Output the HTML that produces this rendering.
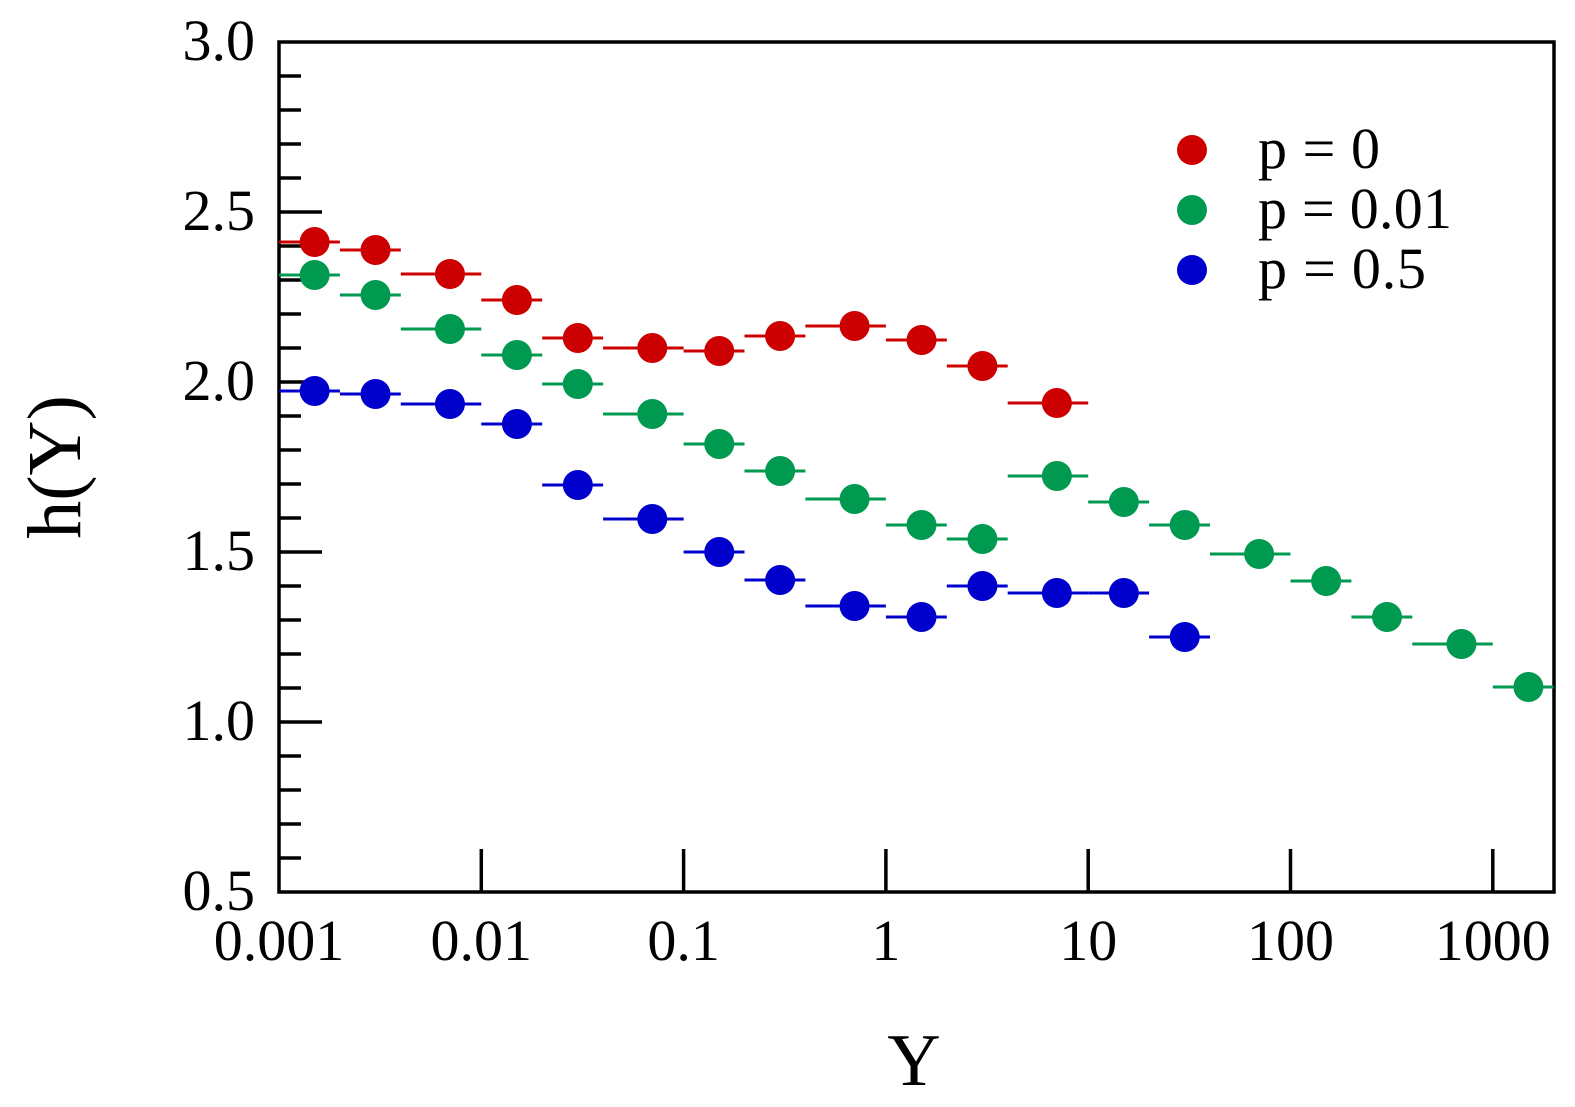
<!DOCTYPE html>
<html><head><meta charset="utf-8"><style>
html,body{margin:0;padding:0;background:#fff;}
svg{display:block;font-family:"Liberation Serif",serif;}
</style></head><body>
<svg id="s" width="1575" height="1107" viewBox="0 0 1575 1107" xmlns="http://www.w3.org/2000/svg">
<rect x="279" y="42" width="1275" height="850" fill="none" stroke="#000" stroke-width="3.5"/>
<g id="ticks" stroke="#000" stroke-width="3.5"></g>
<g id="labels" font-size="58" fill="#000"></g>
<g id="data"></g>
<text x="914" y="1085" font-size="74" text-anchor="middle">Y</text>
<text transform="translate(80,467) rotate(-90)" font-size="76" text-anchor="middle">h(Y)</text>
<g font-size="58" fill="#000">
<circle cx="1192" cy="150" r="15" fill="#cc0000"/><text x="1258" y="168" textLength="122">p = 0</text>
<circle cx="1192" cy="210" r="15" fill="#009950"/><text x="1258" y="228" textLength="194">p = 0.01</text>
<circle cx="1192" cy="270" r="15" fill="#0000cc"/><text x="1258" y="288" textLength="168">p = 0.5</text>
</g>
</svg>
<script>
const NS="http://www.w3.org/2000/svg";
function el(p,t,a,txt){const e=document.createElementNS(NS,t);for(const k in a)e.setAttribute(k,a[k]);if(txt)e.textContent=txt;p.appendChild(e);return e;}
const X=v=>279+202.3*(Math.log10(v)+3);
const Yv=v=>42+(3-v)*340;
const tk=document.getElementById('ticks'),lb=document.getElementById('labels'),dt=document.getElementById('data');
for(let i=1;i<25;i++){const v=0.5+i*0.1;const y=Yv(v);const major=(i%5==0);el(tk,'line',{x1:279,x2:279+(major?43:22),y1:y,y2:y});}
[0.5,1.0,1.5,2.0,2.5,3.0].forEach(v=>el(lb,'text',{x:255,y:Yv(v)+18,'text-anchor':'end'},v.toFixed(1)));
const xl=['0.001','0.01','0.1','1','10','100','1000'];
xl.forEach((s,i)=>{const x=279+202.3*i;if(i>0&&i<7)el(tk,'line',{x1:x,x2:x,y1:892,y2:849});el(lb,'text',{x:x,y:960,'text-anchor':'middle'},s);});
const edges=[];for(let d=-3;d<=3;d++){[1,2,4].forEach(m=>edges.push(m*Math.pow(10,d)));}edges.push(10000);
function series(col,ys){ys.forEach((y,i)=>{const a=edges[i],b=edges[i+1];const c=(a+b)/2;
el(dt,'line',{x1:X(a),x2:Math.min(X(b),1554),y1:y,y2:y,stroke:col,'stroke-width':3});
el(dt,'circle',{cx:X(c),cy:y,r:15,fill:col});});}
series('#009950',[275,295,329,355,384,414,444,471,499,525,539,476,502,525,554,581,617,644,687]);
series('#0000cc',[391,394,404,424,485,519,552,580,606,617,586,593,593,637]);
series('#cc0000',[242,250,274,300,338,348,351,336,326,340,366,403]);
</script>
</body></html>
